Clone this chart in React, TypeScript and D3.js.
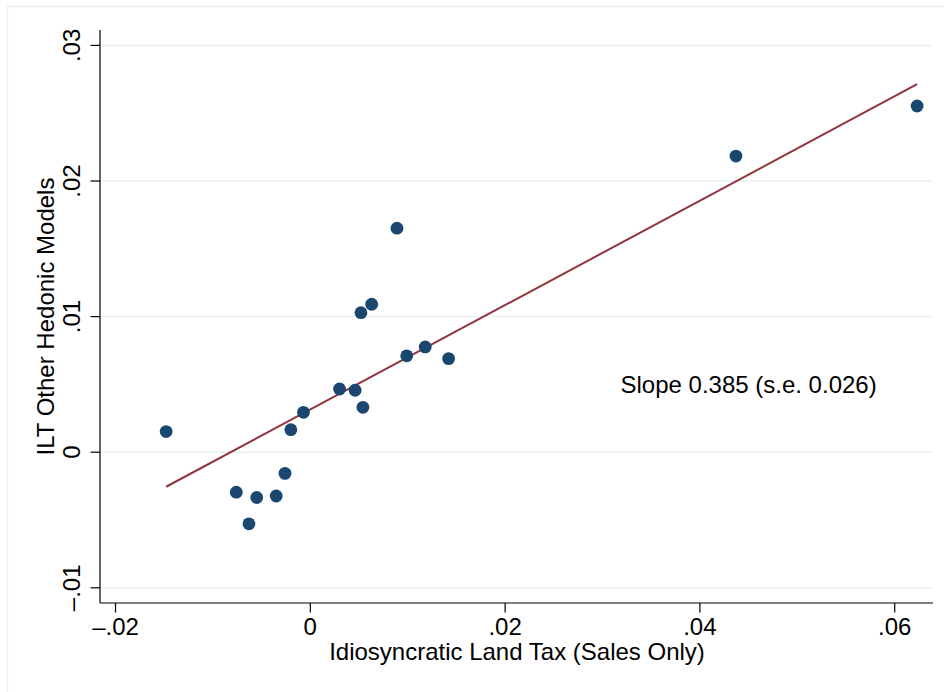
import React, { useEffect, useRef } from 'react';
import * as d3 from 'd3';

// scatter points (x = idiosyncratic land tax, y = ILT other hedonic)
const xValues = [
  -0.0148, -0.0076, -0.0063, -0.0055, -0.0035, -0.0026, -0.0020, -0.0007,
  0.0030, 0.0046, 0.0054, 0.0052, 0.0063, 0.0089, 0.0099, 0.0118, 0.0142,
  0.0437, 0.0623,
];
const yValues = [
  0.00152, -0.00295, -0.00528, -0.00334, -0.00323, -0.00156, 0.00166, 0.00294,
  0.00466, 0.00457, 0.00331, 0.01029, 0.01091, 0.01652, 0.00711, 0.00776, 0.00690,
  0.02184, 0.02553,
];

// fitted line
const fitIntercept = 0.00315;
const fitSlope = 0.385;

const xTicks = [-0.02, 0, 0.02, 0.04, 0.06];
const yTicks = [-0.01, 0, 0.01, 0.02, 0.03];
const fmt = (v: number) => (v === 0 ? '0' : (v < 0 ? '\u2013' : '') + Math.abs(v).toFixed(2).replace(/^0/, ''));

const W = 944;
const H = 692;

const App = () => {
  const svgRef = useRef<SVGSVGElement>(null);

  useEffect(() => {
    document.body.style.margin = '0';
    const svg = d3.select(svgRef.current);
    svg.selectAll('*').remove();
    const font = 'Liberation Sans, Arial, Helvetica, sans-serif';
    const fs = 24;

    svg.append('rect').attr('width', W).attr('height', H).attr('fill', 'white');
    // outer frame
    svg.append('rect')
      .attr('x', 7.5).attr('y', 6.5)
      .attr('width', W).attr('height', H)
      .attr('fill', 'none').attr('stroke', '#eaf2f3').attr('stroke-width', 1.5);

    const x = d3.scaleLinear().domain([0, 0.02]).range([310.3, 505.1]);
    const y = d3.scaleLinear().domain([0, 0.01]).range([452.2, 316.6]);
    const left = 100;
    const right = 933;
    const top = 30;
    const bottom = 603;

    // gridlines
    svg.append('g').selectAll('line')
      .data(yTicks)
      .enter()
      .append('line')
      .attr('x1', left).attr('x2', right)
      .attr('y1', d => y(d)).attr('y2', d => y(d))
      .attr('stroke', '#eaf2f3').attr('stroke-width', 1.5);

    // axes
    const xAxis = svg.append('g').attr('transform', `translate(0, ${bottom})`);
    xAxis.append('line').attr('x1', left).attr('x2', right).attr('stroke', 'black').attr('stroke-width', 1.2);
    xAxis.selectAll('line.tick')
      .data(xTicks).enter().append('line').attr('class', 'tick')
      .attr('x1', d => x(d)).attr('x2', d => x(d)).attr('y1', 0).attr('y2', 9.5)
      .attr('stroke', 'black').attr('stroke-width', 1.2);
    xAxis.selectAll('text')
      .data(xTicks).enter().append('text')
      .attr('x', d => x(d)).attr('y', 32)
      .attr('text-anchor', 'middle')
      .attr('font-family', font).attr('font-size', fs)
      .text(d => fmt(d));

    const yAxis = svg.append('g').attr('transform', `translate(${left}, 0)`);
    yAxis.append('line').attr('y1', top).attr('y2', bottom).attr('stroke', 'black').attr('stroke-width', 1.2);
    yAxis.selectAll('line.tick')
      .data(yTicks).enter().append('line').attr('class', 'tick')
      .attr('y1', d => y(d)).attr('y2', d => y(d)).attr('x1', 0).attr('x2', -9.5)
      .attr('stroke', 'black').attr('stroke-width', 1.2);
    yAxis.selectAll('text')
      .data(yTicks).enter().append('text')
      .attr('transform', d => `translate(-20, ${y(d)}) rotate(-90)`)
      .attr('text-anchor', 'middle')
      .attr('font-family', font).attr('font-size', fs)
      .text(d => fmt(d));

    // axis titles
    svg.append('text')
      .attr('x', 517).attr('y', 660)
      .attr('text-anchor', 'middle')
      .attr('font-family', font).attr('font-size', fs)
      .text('Idiosyncratic Land Tax (Sales Only)');
    svg.append('text')
      .attr('transform', `translate(53.5, 316.5) rotate(-90)`)
      .attr('text-anchor', 'middle')
      .attr('font-family', font).attr('font-size', fs)
      .text('ILT Other Hedonic Models');

    // fitted line over the x range
    const [xMin, xMax] = d3.extent(xValues) as [number, number];
    svg.append('line')
      .attr('x1', x(xMin)).attr('y1', y(fitIntercept + fitSlope * xMin))
      .attr('x2', x(xMax)).attr('y2', y(fitIntercept + fitSlope * xMax))
      .attr('stroke', '#90353b').attr('stroke-width', 2);

    // points
    svg.append('g').selectAll('circle')
      .data(xValues)
      .enter()
      .append('circle')
      .attr('cx', d => x(d))
      .attr('cy', (_, i) => y(yValues[i]))
      .attr('r', 6.4)
      .attr('fill', '#1a476f');

    // annotation
    svg.append('text')
      .attr('x', x(0.045)).attr('y', y(0.005))
      .attr('dy', '0.35em')
      .attr('text-anchor', 'middle')
      .attr('font-family', font).attr('font-size', fs)
      .text('Slope 0.385 (s.e. 0.026)');
  }, []);

  return <svg ref={svgRef} width={W} height={H} style={{ display: 'block' }}></svg>;
};

export default App;
